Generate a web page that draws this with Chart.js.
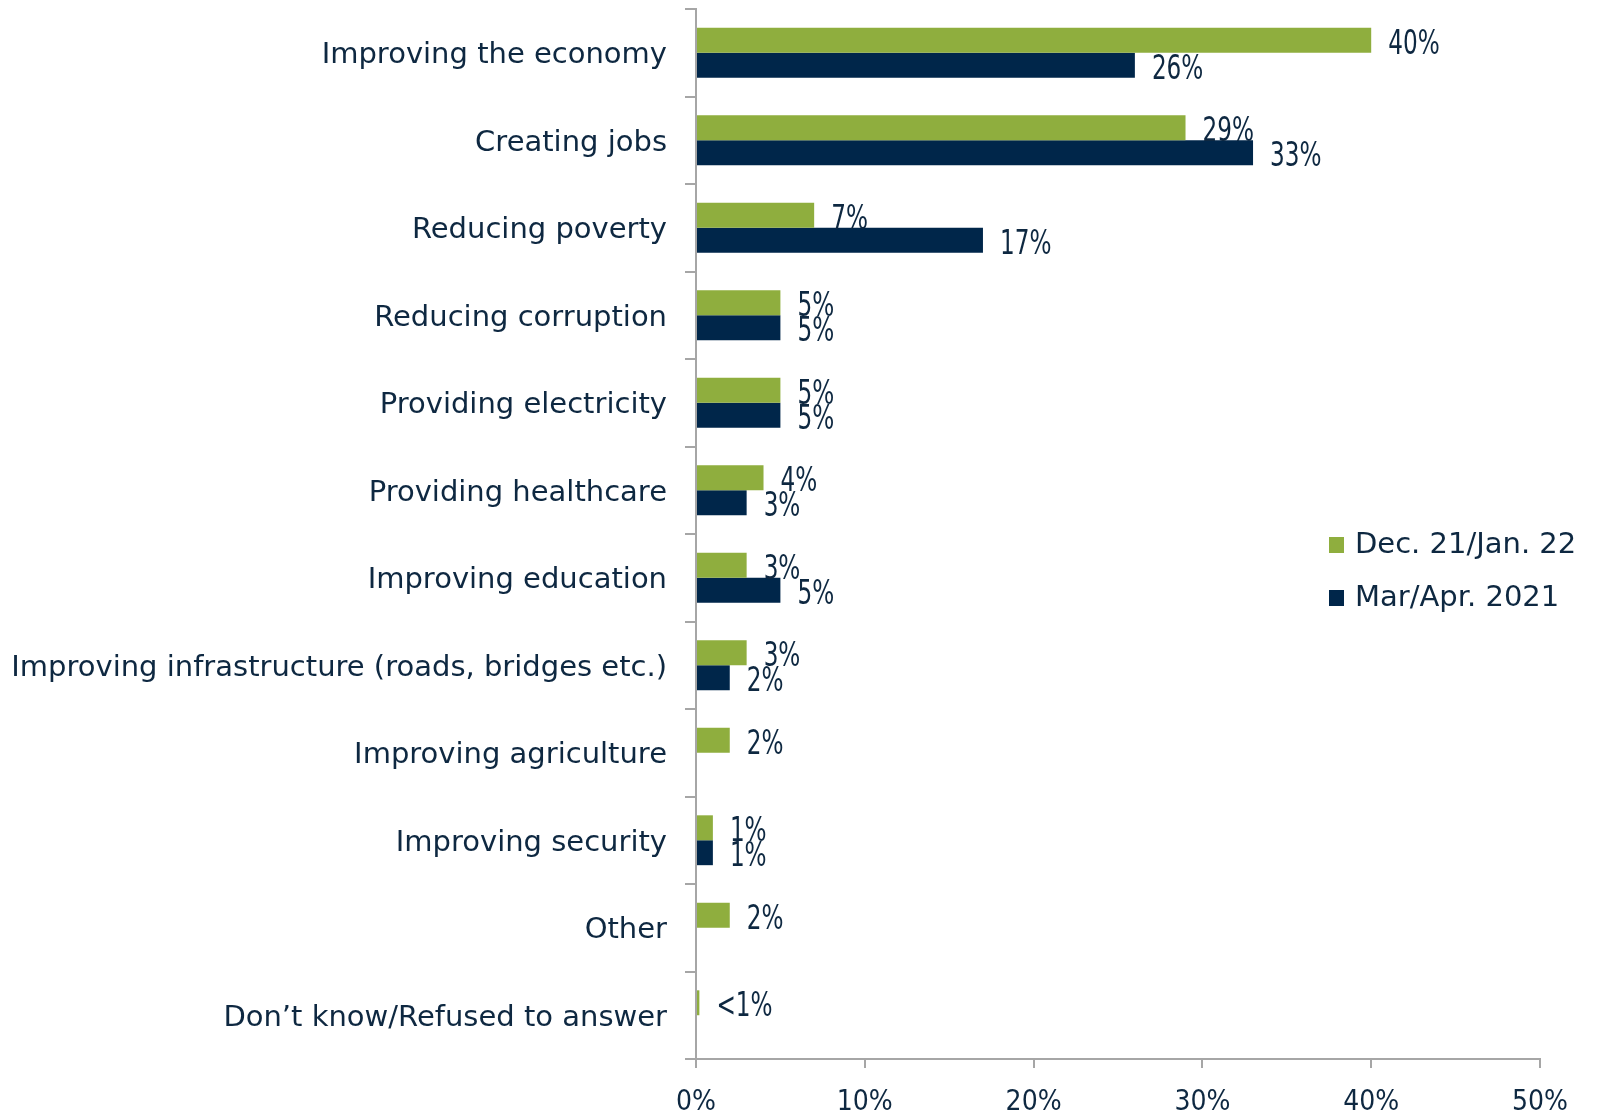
<!DOCTYPE html>
<html>
<head>
<meta charset="utf-8">
<script src="https://cdn.jsdelivr.net/npm/chart.js@4.4.1/dist/chart.umd.min.js"></script>
<style>
  html, body { margin: 0; padding: 0; background: #fff; }
  #wrap { width: 1597px; height: 1114px; position: relative; }
</style>
</head>
<body>
<div id="wrap"><canvas id="barChart"></canvas></div>
<script>
const categories = [
  'Improving the economy',
  'Creating jobs',
  'Reducing poverty',
  'Reducing corruption',
  'Providing electricity',
  'Providing healthcare',
  'Improving education',
  'Improving infrastructure (roads, bridges etc.)',
  'Improving agriculture',
  'Improving security',
  'Other',
  'Don\u2019t know/Refused to answer'
];

// Dec. 21/Jan. 22
const wave2022 = [40, 29, 7, 5, 5, 4, 3, 3, 2, 1, 2, 0.2];
const wave2022Labels = ['40%', '29%', '7%', '5%', '5%', '4%', '3%', '3%', '2%', '1%', '2%', '<1%'];

// Mar/Apr. 2021
const wave2021 = [26, 33, 17, 5, 5, 3, 5, 2, null, 1, null, null];
const wave2021Labels = ['26%', '33%', '17%', '5%', '5%', '3%', '5%', '2%', '', '1%', '', ''];

const xTicks = [0, 10, 20, 30, 40, 50];

const GREEN = '#8FAE3E';
const NAVY = '#00264A';
const TEXT = '#0E2841';
const AXIS = '#A6A6A6';
const LABEL_FONT = "29px 'DejaVu Sans', sans-serif";
const NUM_FONT = "33px 'DejaVu Sans Condensed', sans-serif";

// etiket nilai di ujung batang (huruf dipersempit)
const valueLabels = {
  id: 'valueLabels',
  afterDatasetsDraw(chart) {
    const ctx = chart.ctx;
    const texts = [wave2022Labels, wave2021Labels];
    const squeeze = 0.78;
    ctx.save();
    ctx.font = NUM_FONT;
    ctx.fillStyle = TEXT;
    ctx.textAlign = 'left';
    ctx.textBaseline = 'middle';
    chart.data.datasets.forEach((ds, i) => {
      chart.getDatasetMeta(i).data.forEach((bar, j) => {
        const t = texts[i][j];
        if (!t || ds.data[j] == null) return;
        ctx.save();
        ctx.translate(bar.x + 17, bar.y + 5);
        ctx.scale(squeeze, 1);
        ctx.fillText(t, 0, 0);
        ctx.restore();
      });
    });
    ctx.restore();
  }
};

// legenda di dalam area grafik
const sideLegend = {
  id: 'sideLegend',
  afterDraw(chart) {
    const ctx = chart.ctx;
    const area = chart.chartArea;
    const x = area.right - 211;
    const y0 = area.top + (area.bottom - area.top) / 2 + 11;
    ctx.save();
    ctx.font = LABEL_FONT;
    ctx.textBaseline = 'middle';
    ctx.textAlign = 'left';
    chart.data.datasets.forEach((ds, i) => {
      const y = y0 + i * 53;
      ctx.fillStyle = ds.backgroundColor;
      ctx.fillRect(x, y - 8, 15, 16);
      ctx.fillStyle = TEXT;
      ctx.fillText(ds.label, x + 26, y);
    });
    ctx.restore();
  }
};

const ctx = document.getElementById('barChart').getContext('2d');
new Chart(ctx, {
  type: 'bar',
  data: {
    labels: categories,
    datasets: [
      { label: 'Dec. 21/Jan. 22', data: wave2022, backgroundColor: GREEN },
      { label: 'Mar/Apr. 2021', data: wave2021, backgroundColor: NAVY }
    ]
  },
  options: {
    indexAxis: 'y',
    responsive: true,
    maintainAspectRatio: false,
    animation: false,
    layout: { padding: { top: 9, right: 57, left: 0, bottom: 0 } },
    datasets: { bar: { barPercentage: 1.0, categoryPercentage: 0.57 } },
    scales: {
      x: {
        min: 0,
        max: 50,
        afterBuildTicks: (s) => { s.ticks = xTicks.map(v => ({ value: v })); },
        afterFit: (s) => { s.height = 55; s.paddingLeft = 0; s.paddingRight = 0; },
        grid: { drawOnChartArea: false, drawTicks: true, tickLength: 9, color: AXIS, lineWidth: 2 },
        border: { color: AXIS, width: 2 },
        ticks: {
          color: TEXT,
          font: { family: "'DejaVu Sans Condensed', sans-serif", size: 28 },
          padding: 18,
          callback: (v) => v + '%'
        }
      },
      y: {
        afterFit: (s) => { s.width = 696; s.paddingTop = 0; s.paddingBottom = 0; },
        grid: { offset: true, drawOnChartArea: false, drawTicks: true, tickLength: 11, color: AXIS, lineWidth: 2 },
        border: { color: AXIS, width: 2 },
        ticks: {
          color: TEXT,
          font: { family: "'DejaVu Sans', sans-serif", size: 29 },
          padding: 18,
          labelOffset: 3,
          autoSkip: false
        }
      }
    },
    plugins: {
      legend: { display: false },
      tooltip: { enabled: false }
    }
  },
  plugins: [valueLabels, sideLegend]
});
</script>
</body>
</html>
